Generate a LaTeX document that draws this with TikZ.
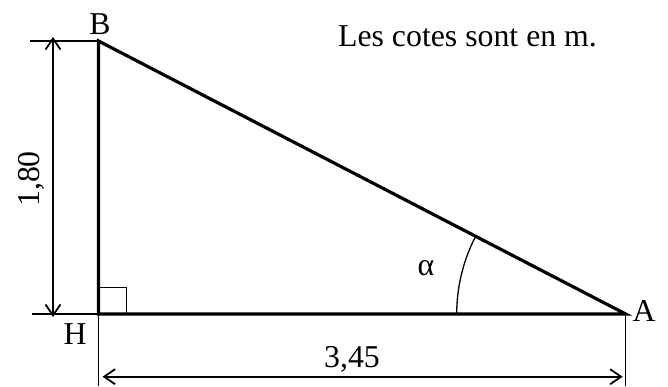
\documentclass[tikz,border=0pt]{standalone}
\usepackage{fontspec}
\setmainfont{Liberation Serif}
\usetikzlibrary{arrows.meta}
\begin{document}
\begin{tikzpicture}[x=1pt,y=-1pt,
  lbl/.style={inner sep=0pt,anchor=base,font=\fontsize{31.8}{38}\selectfont},
  thick side/.style={line width=3.2pt},
  thin ext/.style={line width=1.4pt},
  dimarrow/.style={line width=1.8pt,{Straight Barb[length=11pt,width=15pt,line width=1.8pt]}-{Straight Barb[length=11pt,width=15pt,line width=1.8pt]}}]
\useasboundingbox (0,0) rectangle (668,386);
\coordinate (B) at (98.5,41);
\coordinate (H) at (98.5,314);
\coordinate (A) at (625.7,314);
\coordinate (Bext) at (30,41);
\coordinate (Hext) at (32,314);
\coordinate (Hbot) at (98.5,386);
\coordinate (Abot) at (625.7,386);
\coordinate (D1) at (53,41);
\coordinate (D2) at (53,314);
\coordinate (E1) at (98.5,376.7);
\coordinate (E2) at (625.7,376.7);
% extension lines
\draw[thin ext] (Bext) -- (B);
\draw[thin ext] (Hext) -- (H);
\draw[thin ext] (H) -- (Hbot);
\draw[thin ext] (A) -- (Abot);
% triangle
\draw[thick side,line join=miter] (B) -- (H) -- (A) -- cycle;
% right angle mark
\draw[line width=1.1pt] ([xshift=1.5pt]H) ++(0,-26.5) -- ++(26.5,0) -- ++(0,26.5);
% angle arc
\draw[line width=1.3pt] ([xshift=-169pt]A) arc[start angle=180,end angle=207.34,radius=169];
% dimension arrows
\draw[dimarrow] ([yshift=4pt]D1) -- ([yshift=-3pt]D2);
\draw[dimarrow] ([xshift=4pt]E1) -- ([xshift=-3pt]E2);
% labels
\node[lbl] (lB) at (100,34) {B};
\node[lbl] (lH) at (75,344) {H};
\node[lbl] (lA) at (644,321) {A};
\node[lbl] (lalpha) at (426,275) {α};
\node[lbl] (note) at (467.5,46.7) {Les cotes sont en m.};
\node[lbl] (w) at (352,367) {3,45};
\node[lbl,rotate=90] (h) at (39,179) {1,80};
\end{tikzpicture}
\end{document}
